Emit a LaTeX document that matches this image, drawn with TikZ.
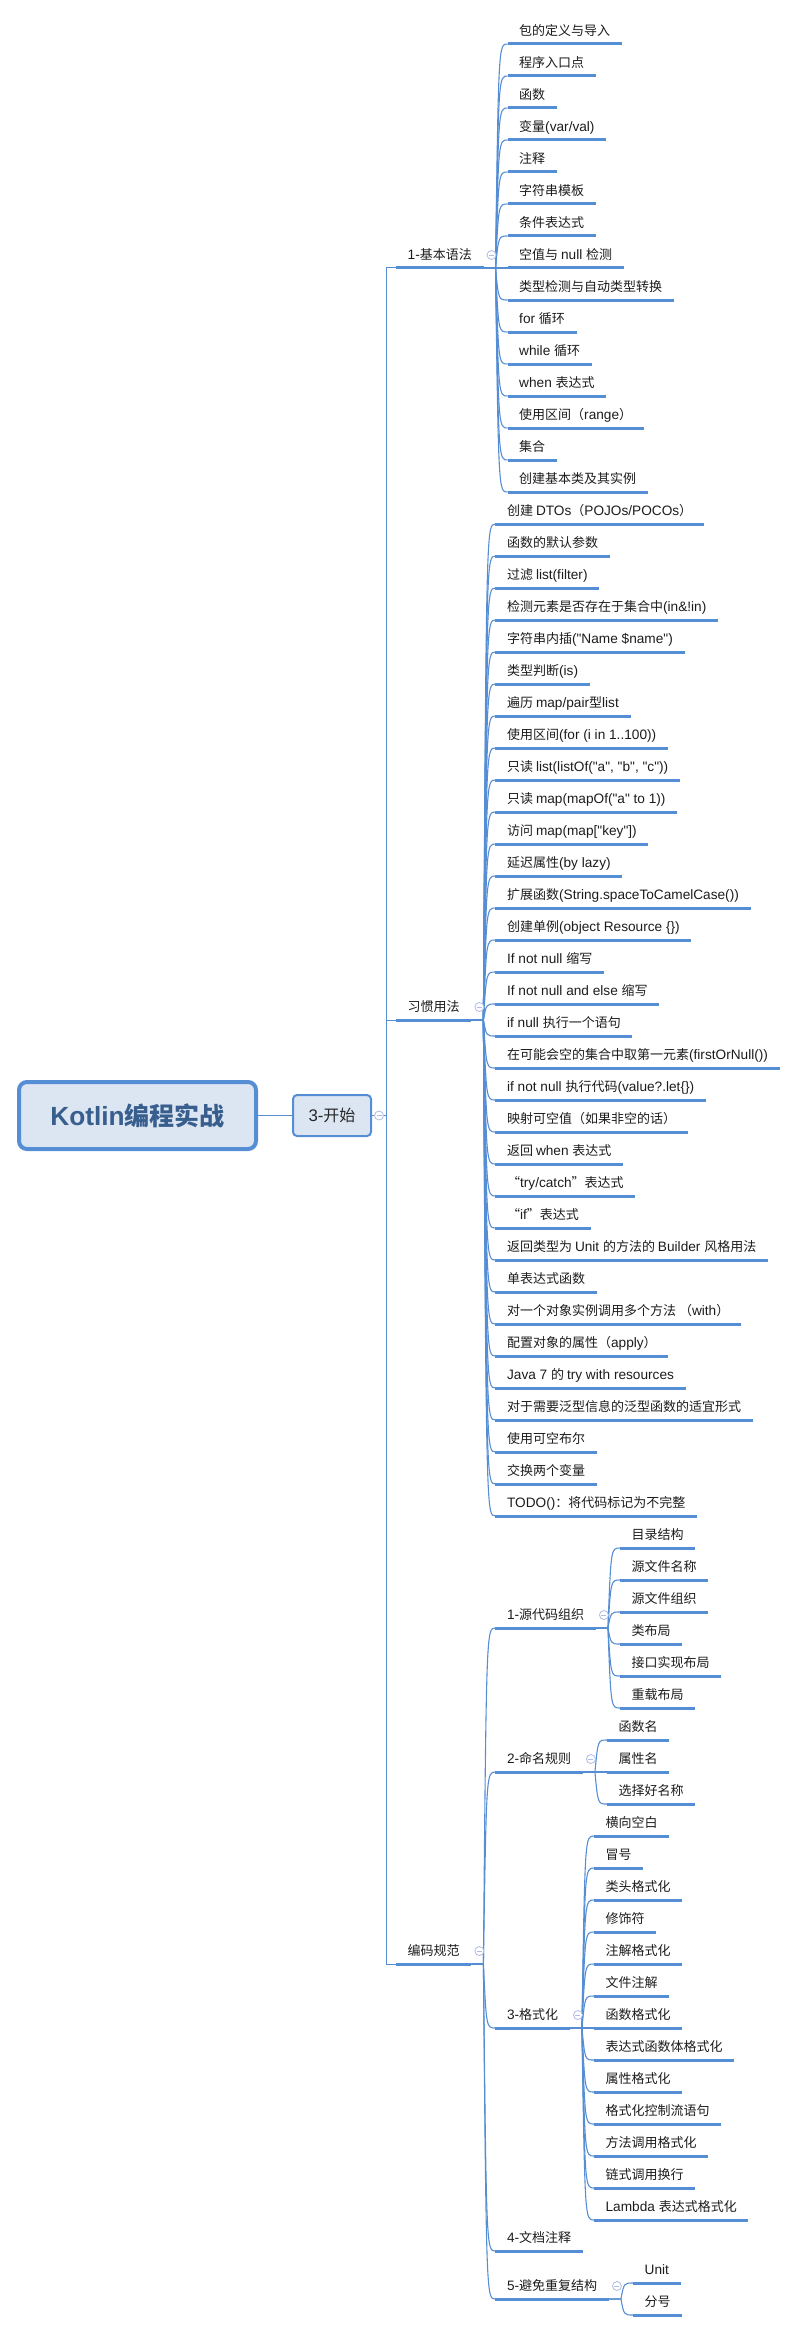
\documentclass[tikz,border=0pt]{standalone}
\usepackage{fontspec}
\newfontfamily\latf{Liberation Sans}[Scale=1.05]
\newfontfamily\cjkf{Noto Sans CJK SC}
\usetikzlibrary{calc,positioning}

% Han characters and full-width punctuation in the CJK face, the rest in the Latin face
\XeTeXinterchartokenstate=1
\newXeTeXintercharclass\cjkcls
\newcount\cjkc
\def\setcjkrange#1#2{\cjkc=#1\relax
  \loop\XeTeXcharclass\cjkc=\cjkcls\relax\ifnum\cjkc<#2\advance\cjkc by 1\repeat}
\setcjkrange{"2018}{"201F}
\setcjkrange{"3000}{"303F}
\setcjkrange{"4E00}{"9FFF}
\setcjkrange{"FF00}{"FFEF}
\XeTeXinterchartoks 0 \cjkcls = {\cjkf}
\XeTeXinterchartoks 4095 \cjkcls = {\cjkf}
\XeTeXinterchartoks \cjkcls 0 = {\latf}
\XeTeXinterchartoks 4095 0 = {\latf}

\definecolor{linec}{RGB}{85,142,213}
\definecolor{boxfill}{RGB}{220,230,242}
\definecolor{roottext}{RGB}{56,94,142}
\definecolor{foldc}{RGB}{176,188,228}
\definecolor{leaftext}{RGB}{28,28,28}

% curved connector: parent underline end -> child underline start
\newcommand{\branchto}[2]{%
  \draw[conn] (#1.south east) -- ($(#2.south west |- #1.south east)+(-12,0)$)
    .. controls ($(#2.south west)+(-9,0)$) .. (#2.south west);}

\begin{document}
\begin{tikzpicture}[x=1pt, y=-1pt,
  font=\latf\fontsize{13}{15}\selectfont,
  uline/.style={draw=linec, line width=3pt},
  conn/.style={draw=linec, line width=1.1pt},
  elbow/.style={draw=linec, line width=1pt},
  leaf/.style={anchor=south west, inner xsep=11.5pt, inner ysep=0pt,
    text height=10pt, text depth=8pt, text=leaftext,
    append after command={(\tikzlastnode.south west) edge[uline] (\tikzlastnode.south east)}},
  fold/.style={circle, draw=foldc, fill=white, line width=0.8pt, minimum size=9pt, inner sep=0pt,
    path picture={\draw[foldc, line width=0.8pt] ([xshift=-2.5pt]path picture bounding box.center)
      -- ([xshift=2.5pt]path picture bounding box.center);}},
  rootbox/.style={draw=linec, line width=4pt, fill=boxfill, rounded corners=8pt,
    minimum width=237pt, minimum height=67pt, text=roottext,
    font=\latf\fontsize{25}{30}\selectfont\bfseries},
  topicbox/.style={draw=linec, line width=2pt, fill=boxfill, rounded corners=4pt,
    minimum width=78pt, minimum height=41pt, text=black!85,
    font=\latf\fontsize{16}{19}\selectfont},
  ]
  \useasboundingbox (0,0) rectangle (799,2333);

  \node[rootbox] (root) at (137.5,1115.5) {Kotlin编程实战};
  \node[topicbox] (start) at (332,1115.5) {3-开始};
  \draw[conn] (root.east) -- (start.west);
  \coordinate (sj) at ($(start.east)+(14,0)$);

  \node[leaf] (b) at (396,268) {1-基本语法};
  \node[leaf] (x) at (396,1020) {习惯用法};
  \node[leaf] (c) at (396,1964) {编码规范};
  \foreach \g in {b,x,c}
    \draw[elbow] (start.east) -- (sj) |- (\g.south west);

  % 1-基本语法
  \foreach \t [count=\i] in {包的定义与导入, 程序入口点, 函数, {变量(var/val)}, 注释,
      字符串模板, 条件表达式, 空值与 null 检测, 类型检测与自动类型转换, for 循环,
      while 循环, when 表达式, {使用区间（range）}, 集合, 创建基本类及其实例} {
    \node[leaf] (b\i) at ($(b.south east)+(24,{(\i-8)*32})$) {\t};
    \branchto{b}{b\i}
  }

  % 习惯用法
  \foreach \t [count=\i] in {{创建 DTOs（POJOs/POCOs）}, 函数的默认参数, {过滤 list(filter)},
      {检测元素是否存在于集合中(in\&!in)}, {字符串内插("Name \$name")}, {类型判断(is)},
      {遍历 map/pair型list}, {使用区间(for (i in 1..100))}, {只读 list(listOf("a", "b", "c"))},
      {只读 map(mapOf("a" to 1))}, {访问 map(map["key"])}, {延迟属性(by lazy)},
      {扩展函数(String.spaceToCamelCase())}, {创建单例(object Resource \{\})},
      If not null 缩写, If not null and else 缩写, if null 执行一个语句,
      {在可能会空的集合中取第一元素(firstOrNull())}, {if not null 执行代码(value?.let\{\})},
      {映射可空值（如果非空的话）}, 返回 when 表达式, {“try/catch”表达式}, {“if”表达式},
      返回类型为 Unit 的方法的 Builder 风格用法, 单表达式函数,
      {对一个对象实例调用多个方法 （with）}, {配置对象的属性（apply）},
      Java 7 的 try with resources, 对于需要泛型信息的泛型函数的适宜形式,
      使用可空布尔, 交换两个变量, {TODO()：将代码标记为不完整}} {
    \node[leaf] (x\i) at ($(x.south east)+(24,{(\i-16.5)*32})$) {\t};
    \branchto{x}{x\i}
  }

  % 编码规范
  \node[leaf] (c1) at ($(c.south east)+(24,-336)$) {1-源代码组织};
  \node[leaf] (c2) at ($(c.south east)+(24,-192)$) {2-命名规则};
  \node[leaf] (c3) at ($(c.south east)+(24,64)$) {3-格式化};
  \node[leaf] (c4) at ($(c.south east)+(24,287)$) {4-文档注释};
  \node[leaf] (c5) at ($(c.south east)+(24,335)$) {5-避免重复结构};
  \foreach \k in {1,...,5} {
    \branchto{c}{c\k}
  }

  \foreach \t [count=\i] in {目录结构, 源文件名称, 源文件组织, 类布局, 接口实现布局, 重载布局} {
    \node[leaf] (c1\i) at ($(c1.south east)+(24,{(\i-3.5)*32})$) {\t};
    \branchto{c1}{c1\i}
  }
  \foreach \t [count=\i] in {函数名, 属性名, 选择好名称} {
    \node[leaf] (c2\i) at ($(c2.south east)+(24,{(\i-2)*32})$) {\t};
    \branchto{c2}{c2\i}
  }
  \foreach \t [count=\i] in {横向空白, 冒号, 类头格式化, 修饰符, 注解格式化, 文件注解, 函数格式化,
      表达式函数体格式化, 属性格式化, 格式化控制流语句, 方法调用格式化, 链式调用换行,
      Lambda 表达式格式化} {
    \node[leaf] (c3\i) at ($(c3.south east)+(24,{(\i-7)*32})$) {\t};
    \branchto{c3}{c3\i}
  }
  \foreach \t [count=\i] in {Unit, 分号} {
    \node[leaf] (c5\i) at ($(c5.south east)+(24,{(\i-1.5)*32})$) {\t};
    \branchto{c5}{c5\i}
  }

  % fold markers
  \node[fold] (fs) at ($(start.east)+(7,0)$) {};
  \foreach \g in {b,x,c,c1,c2,c3,c5}
    \node[fold] (f\g) at ($(\g.south east)+(8,-13)$) {};
\end{tikzpicture}
\end{document}
